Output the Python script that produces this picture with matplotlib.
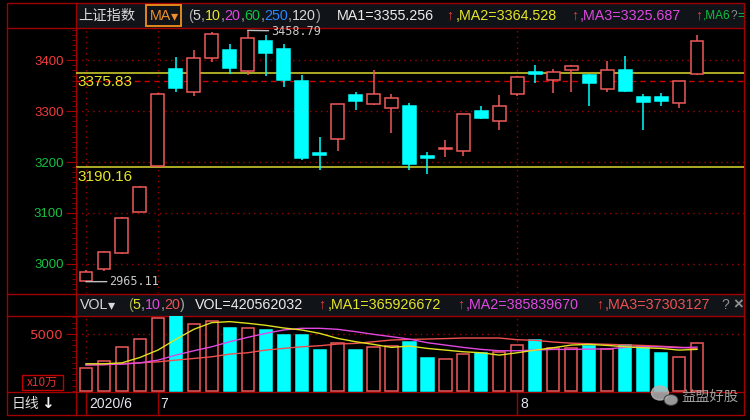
import matplotlib
matplotlib.use('Agg')
import matplotlib.pyplot as plt
from matplotlib.patches import Rectangle, Ellipse
from matplotlib.ticker import MultipleLocator
import numpy as np

# 上证指数 daily bars, 2020-06-30 .. 2020-08-17
opens = [2966, 2990, 3021, 3102, 3192, 3383, 3338, 3404, 3420, 3379,
         3437, 3422, 3359, 3218, 3245, 3332, 3315, 3306, 3311, 3212,
         3226, 3222, 3300, 3281, 3333, 3378, 3361, 3381, 3371, 3343,
         3381, 3328, 3328, 3316, 3374]
highs = [2988, 3025.5, 3091.5, 3152.5, 3336, 3406, 3420, 3456, 3433, 3458.79,
         3450, 3432, 3372, 3250, 3315, 3337, 3381, 3334, 3317, 3220,
         3243, 3294, 3311, 3332, 3368.5, 3391, 3383, 3391, 3374, 3398,
         3408, 3334, 3336, 3360, 3450]
lows = [2965.11, 2987, 3020, 3101, 3190, 3337, 3330, 3397, 3374, 3372,
        3369, 3348, 3205, 3184, 3222, 3302, 3313, 3258, 3184, 3176,
        3210, 3212, 3284, 3264, 3330, 3355, 3335, 3337, 3310, 3337,
        3338, 3264, 3310, 3306, 3372]
closes = [2985, 3024, 3091, 3152, 3334, 3345, 3405, 3452, 3384, 3444,
          3414, 3361, 3209, 3214, 3314, 3321, 3334, 3326, 3196, 3208,
          3228, 3294, 3286, 3311, 3368, 3373, 3377, 3389, 3355, 3380,
          3340, 3319, 3321, 3360, 3437]

# volume, x10万
volumes = [2018, 2658, 3886, 4535, 6377, 6600, 5877, 6170, 5556, 5556,
           5351, 4912, 4912, 3596, 4181, 3596, 3886, 3947, 4330, 2924,
           2778, 3246, 3363, 3450, 4035, 4474, 3743, 3743, 3977, 3684,
           4035, 3830, 3304, 3012, 4206]
vol_ma5 = [2400, 2400, 2482, 2953, 3596, 4535, 5409, 5994, 6080, 5936,
           5760, 5526, 5351, 5058, 4620, 4327, 4094, 3830, 3950, 3743,
           3596, 3450, 3363, 3158, 3363, 3596, 3801, 4035, 4094, 4006,
           3886, 3801, 3743, 3596, 3659]
vol_ma10 = [2300, 2330, 2368, 2482, 2719, 3158, 3538, 3886, 4327, 4708,
            5058, 5351, 5497, 5497, 5409, 5205, 4971, 4766, 4550, 4240,
            4035, 3830, 3655, 3538, 3538, 3596, 3655, 3655, 3684, 3700,
            3830, 3886, 3886, 3801, 3858]
vol_ma20 = [2300, 2330, 2400, 2482, 2573, 2719, 2865, 3012, 3246, 3363,
            3596, 3743, 3886, 3977, 4123, 4181, 4327, 4474, 4530, 4560,
            4600, 4650, 4650, 4650, 4500, 4450, 4300, 4200, 4150, 4100,
            4050, 4000, 3930, 3850, 3730]

month_pos = [0, 4, 24]
month_labels = ['2020/6', '7', '8']
price_ticks = [3000, 3100, 3200, 3300, 3400]
drawn_levels = [3375.83, 3190.16]
hi_idx, lo_idx = 9, 0

ma_header = ['3355.256', '3364.528', '3325.687']
vol_header = ['420562032', '365926672', '385839670', '37303127']

RED = '#f05a5a'
CYAN = '#00ffff'
FRAME = '#a00000'
GRID = '#a00000'
UPTXT = '#f03c3c'
DNTXT = '#18c040'
YEL = '#e6e628'
MAG = '#e048e0'
GREY = '#d8d8d8'
LAT = ['Liberation Sans', 'DejaVu Sans']
CJK = ['Noto Sans CJK SC', 'DejaVu Sans']

W, H = 750, 420
fig = plt.figure(figsize=(W / 100, H / 100), dpi=100, facecolor='black')


def rect(x0, y0, x1, y1):
    return [x0 / W, 1 - y1 / H, (x1 - x0) / W, (y1 - y0) / H]


PX = 17.97               # pixels per bar
X0 = 86                  # pixel centre of bar 0
xl = ((76 - X0) / PX, (744 - X0) / PX)

x = np.arange(len(closes))
o, h, l, c = map(np.array, (opens, highs, lows, closes))
up = c >= o
cols = np.where(up, RED, CYAN)

# ---- frame, headers and texts in pixel space (drawn underneath the panels)
ov = fig.add_axes([0, 0, 1, 1], zorder=1)
ov.set_xlim(0, W)
ov.set_ylim(H, 0)
ov.axis('off')

# ---- price panel
ax = fig.add_axes(rect(76, 28, 744, 293), zorder=5)
ax.patch.set_visible(False)
ax.set_xlim(*xl)
ax.set_ylim(2942.8, 3463.5)
for s in ax.spines.values():
    s.set_visible(False)
ax.set_xticks([])
ax.set_yticks(price_ticks, [str(t) for t in price_ticks])
ax.yaxis.set_minor_locator(MultipleLocator(10))
ax.tick_params(axis='y', which='major', length=7, color=FRAME, pad=2, labelsize=9.5)
ax.tick_params(axis='y', which='minor', length=3, color=FRAME)
for t, v in zip(ax.get_yticklabels(), price_ticks):
    t.set_color(UPTXT if v > 3250 else DNTXT)
    t.set_family(LAT)
for v in price_ticks:
    ax.axhline(v, color=GRID, lw=1, ls=(0, (1, 3)), zorder=1)
for p in month_pos:
    ax.axvline(p, color=GRID, lw=1, ls=(0, (1, 3)), zorder=1)

for lv in drawn_levels:
    ax.axhline(lv, color='#c8c82a', lw=1.2, zorder=1.5)
    ax.annotate(f'{lv:.2f}', xy=(0, lv), xycoords=('axes fraction', 'data'),
                xytext=(1, -2), textcoords='offset points', va='top', ha='left',
                color=YEL, fontsize=11, family=LAT)
ax.axhline(closes[-2], color='#d00000', lw=1, ls=(0, (4, 3)), zorder=1.5)

ax.vlines(x, l, h, colors=cols, lw=1.1, zorder=2)
ax.bar(x[up], c[up] - o[up], bottom=o[up], width=0.72, facecolor='black',
       edgecolor=RED, lw=1.1, zorder=3)
ax.bar(x[~up], o[~up] - c[~up], bottom=c[~up], width=0.72, facecolor=CYAN,
       edgecolor=CYAN, lw=1.1, zorder=3)

for i, v, dy in ((hi_idx, highs[hi_idx], -0.5), (lo_idx, lows[lo_idx], 0)):
    ax.annotate(f'{v:.2f}', xy=(i, v), xytext=(17, dy), textcoords='offset points',
                va='center', ha='left', color='#c8c8c8', fontsize=8.5,
                family='DejaVu Sans Mono', annotation_clip=False,
                arrowprops=dict(arrowstyle='-', color='#c0c0c0', lw=1,
                                shrinkA=0, shrinkB=0))

# ---- volume panel
av = fig.add_axes(rect(76, 316, 744, 392), zorder=5)
av.patch.set_visible(False)
av.set_xlim(*xl)
av.set_ylim(-61, 6571)
for s in av.spines.values():
    s.set_visible(False)
av.set_xticks([])
av.set_yticks([5000], ['5000'])
av.yaxis.set_minor_locator(MultipleLocator(500))
av.tick_params(axis='y', which='major', length=7, color=FRAME, pad=2,
               labelsize=9.5, labelcolor=UPTXT)
av.tick_params(axis='y', which='minor', length=3, color=FRAME)
av.axhline(5000, color=GRID, lw=1, ls=(0, (1, 3)), zorder=1)
vv = np.array(volumes)
av.bar(x[up], vv[up], width=0.68, facecolor='black', edgecolor=RED, lw=1.1, zorder=2)
av.bar(x[~up], vv[~up], width=0.68, facecolor=CYAN, edgecolor=CYAN, lw=1.1, zorder=2)
av.plot(x, vol_ma20, color='#f05050', lw=1, zorder=3)
av.plot(x, vol_ma10, color=MAG, lw=1, zorder=3)
av.plot(x, vol_ma5, color='#e0e020', lw=1, zorder=3)
for p, lab in zip(month_pos, month_labels):
    av.axvline(p, color=GRID, lw=1, ls=(0, (1, 3)), zorder=1)
    av.axvline(p, ymin=-23 / 76, ymax=0, color=FRAME, lw=1, clip_on=False)
    av.annotate(lab, xy=(p, 0), xycoords=('data', 'axes fraction'),
                xytext=(2, -9), textcoords='offset points', va='center', ha='left',
                color='#e6e6f0', fontsize=10, family=LAT, annotation_clip=False)

ov.add_patch(Rectangle((77, 4), 667, 23, color='#101318', zorder=0))
ov.add_patch(Rectangle((77, 295), 667, 20, color='#101318', zorder=0))
ov.add_patch(Rectangle((7, 3), 737, 412, fill=False, ec=FRAME, lw=1))
ov.plot([76, 76], [3, 415], color=FRAME, lw=1)
for yy in (28, 294, 316, 392):
    ov.plot([7, 744], [yy, yy], color=FRAME, lw=1)

rend = fig.canvas.get_renderer()


def run(x0, y0, parts, size=10.3, family=LAT):
    for s, col in parts:
        t = ov.text(x0, y0, s, color=col, fontsize=size, family=family,
                    va='center', ha='left')
        x0 += t.get_window_extent(rend).width
    return x0


hy = 16
ov.text(78, hy, '上证指数', color=GREY, fontsize=10.3, family=CJK, va='center')
ov.add_patch(Rectangle((146, 5), 35, 21, fill=False, ec='#e08a1e', lw=1.4))
run(150, hy, [('MA', '#f0902a'), ('▾', '#f0902a')])
gc = '#a8a8a8'
run(188, hy, [('(', gc), ('5', GREY), (',', gc), ('10', YEL), (',', gc),
              ('20', MAG), (',', gc), ('60', '#10c040'), (',', gc),
              ('250', '#2a86ff'), (',', gc), ('120', GREY), (')', gc)])
run(337, hy, [('MA1=' + ma_header[0], '#ececec')])
run(446, hy, [('↑', UPTXT)])
run(456, hy, [(',MA2=' + ma_header[1], YEL)])
run(571, hy, [('↑', UPTXT)])
run(580, hy, [(',MA3=' + ma_header[2], MAG)])
run(695, hy, [('↑', UPTXT)])
run(703, hy, [(',MA6', '#10c040'), ('?', '#909090'), ('=', '#10c040')], size=8.5)

vy = 305
run(80, vy, [('VOL', GREY), ('▾', GREY)])
run(128, vy, [('(', '#a0a060'), ('5', YEL), (',', gc), ('10', MAG), (',', gc),
              ('20', '#f05050'), (')', gc)])
run(195, vy, [('VOL=' + vol_header[0], '#ececec')])
run(318, vy, [('↑', UPTXT)])
run(328, vy, [(',MA1=' + vol_header[1], YEL)])
run(457, vy, [('↑', UPTXT)])
run(466, vy, [(',MA2=' + vol_header[2], MAG)])
run(596, vy, [('↑', UPTXT)])
run(605, vy, [(',MA3=' + vol_header[3], '#f05050')])
ov.text(721, vy, '?', color='#909090', fontsize=10, family=LAT, va='center')
ov.text(733, vy, '×', color='#909090', fontsize=12, family=LAT, va='center',
        weight='bold')

ov.add_patch(Rectangle((22, 375), 41, 15, fill=False, ec='#c00000', lw=1))
ov.text(42.5, 382.5, 'x10万', color='#e03030', fontsize=8.5, family=CJK,
        va='center', ha='center')

ov.text(12, 404, '日线', color='#e0e0e0', fontsize=10, family=CJK, va='center')
ov.text(41, 404, '↓', color='#f0f0f0', fontsize=11, family='DejaVu Sans',
        weight='bold', va='center')

# watermark (drawn over the volume bars)
wm = fig.add_axes([0, 0, 1, 1], zorder=8)
wm.set_xlim(0, W)
wm.set_ylim(H, 0)
wm.axis('off')
wm.add_patch(Ellipse((660, 393), 17, 14, color='#b4b4b4', alpha=0.85))
wm.add_patch(Ellipse((671, 400), 14, 11, fc='#b4b4b4', ec='#303030', lw=0.8, alpha=0.85))
wm.text(681, 397, '益盟好股', color='#a0a0a0', fontsize=10.3, family=CJK, va='center')

fig.savefig('out.png', dpi=100, facecolor='black')
